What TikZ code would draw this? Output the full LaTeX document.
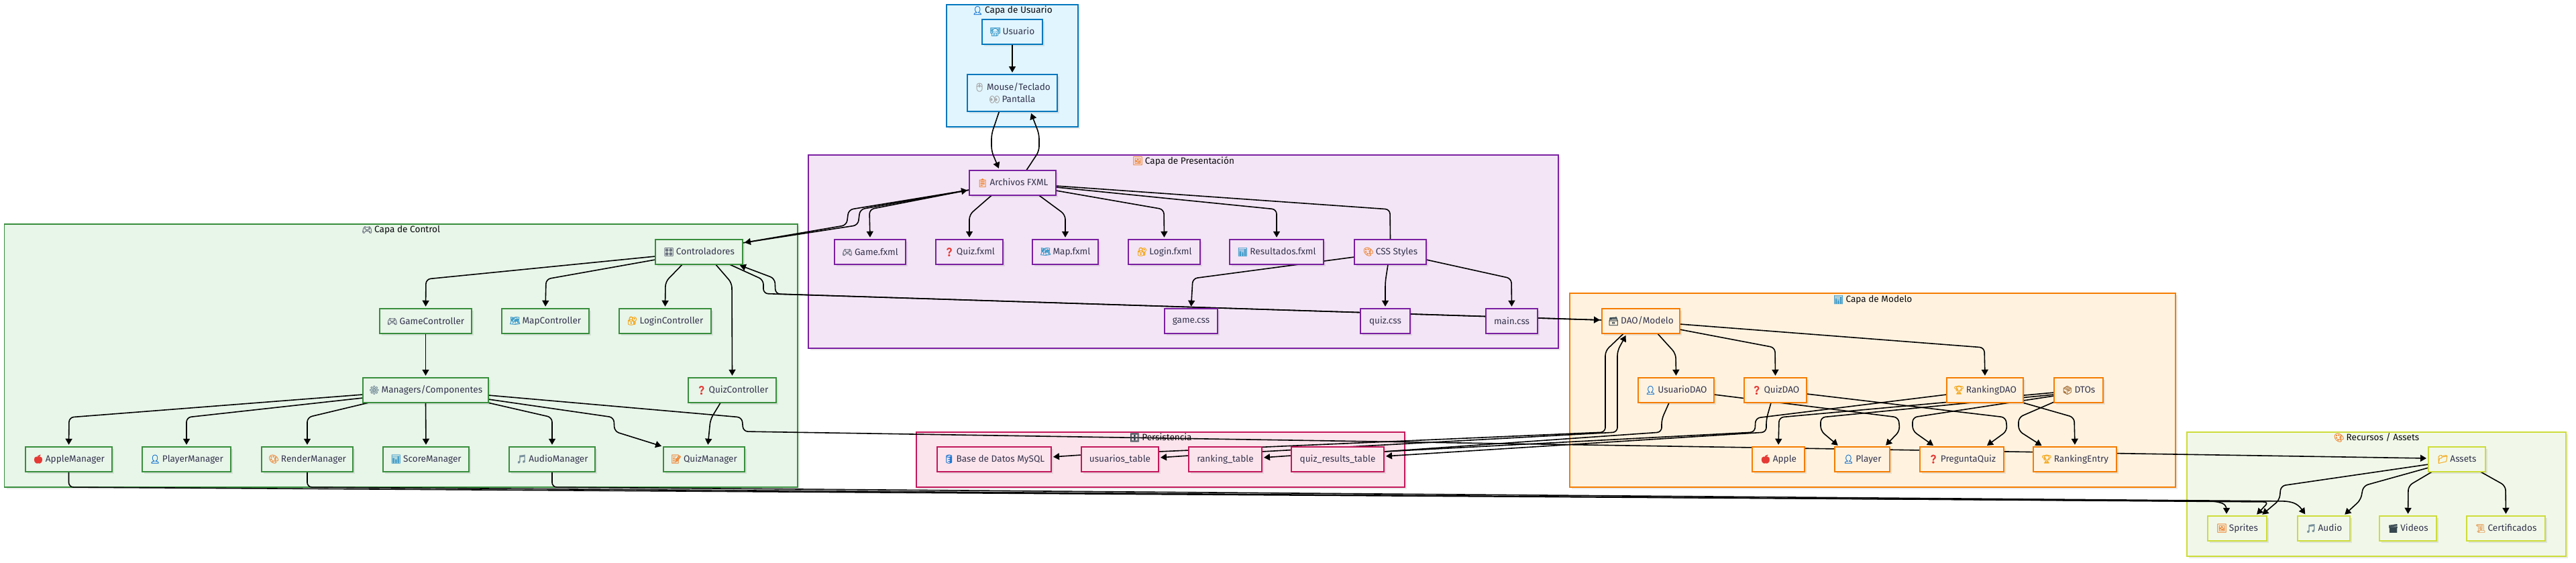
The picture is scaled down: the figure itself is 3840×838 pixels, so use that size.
\documentclass[tikz,border=0pt]{standalone}
\usepackage{fontspec}
\setmainfont{Fira Sans}
\newfontfamily\emojifont[FakeBold=2,Scale=0.92]{Noto Emoji}
\usetikzlibrary{arrows.meta,shadows}
\pgfdeclarelayer{clusterlayer}
\pgfdeclarelayer{edgelayer}
\pgfsetlayers{clusterlayer,edgelayer,main}
\definecolor{txt}{HTML}{33334D}
\definecolor{ufill}{HTML}{E1F5FE}\definecolor{ustroke}{HTML}{0277BD}
\definecolor{pfill}{HTML}{F3E5F5}\definecolor{pstroke}{HTML}{7B1FA2}
\definecolor{cfill}{HTML}{E8F5E9}\definecolor{cstroke}{HTML}{388E3C}
\definecolor{mfill}{HTML}{FFF3E0}\definecolor{mstroke}{HTML}{F57C00}
\definecolor{dfill}{HTML}{FCE4EC}\definecolor{dstroke}{HTML}{C2185B}
\definecolor{rfill}{HTML}{F1F8E9}\definecolor{rstroke}{HTML}{CDDC39}
\definecolor{eblue}{HTML}{1976D2}\definecolor{ered}{HTML}{E53935}
\definecolor{egrey}{HTML}{6B7280}\definecolor{eamber}{HTML}{F4A91F}
\definecolor{eorange}{HTML}{EF8A3C}\definecolor{ebrown}{HTML}{A9743F}
\definecolor{edark}{HTML}{37474F}\definecolor{esteel}{HTML}{78909C}
\definecolor{elight}{HTML}{A8A8A8}\definecolor{etan}{HTML}{E8B27A}
\definecolor{eteal}{HTML}{3E9BC9}
\newcommand{\emj}[2]{{\color{#1}\emojifont #2}\hspace{3pt}}
\tikzset{
  sh/.style={drop shadow={shadow xshift=3pt,shadow yshift=-3pt,fill=black,opacity=.08}},
  cluster/.style={rectangle,line width=1.8pt,inner sep=0pt,outer sep=0pt,sh},
  nd/.style={rectangle,line width=1.8pt,inner sep=0pt,outer sep=0pt,minimum height=37.5pt,
    text=txt,font=\fontsize{13.6}{18}\selectfont,align=center,sh},
  ttl/.style={text=black!85!txt,font=\fontsize{13.6}{18}\selectfont,inner sep=0pt},
  ucl/.style={cluster,draw=ustroke,fill=ufill},un/.style={nd,draw=ustroke,fill=ufill},
  pcl/.style={cluster,draw=pstroke,fill=pfill},pn/.style={nd,draw=pstroke,fill=pfill},
  ccl/.style={cluster,draw=cstroke,fill=cfill},cn/.style={nd,draw=cstroke,fill=cfill},
  mcl/.style={cluster,draw=mstroke,fill=mfill},mn/.style={nd,draw=mstroke,fill=mfill},
  dcl/.style={cluster,draw=dstroke,fill=dfill},dn/.style={nd,draw=dstroke,fill=dfill},
  rcl/.style={cluster,draw=rstroke,fill=rfill},rn/.style={nd,draw=rstroke,fill=rfill},
  edge/.style={draw=black,line width=1.6pt,rounded corners=7pt},
  arr/.style={edge,-{Triangle[length=9pt,width=10pt]},shorten >=3pt},
}
\begin{document}
\begin{tikzpicture}[x=1pt,y=-1pt]
\useasboundingbox (0,0) rectangle (3840,838);
\begin{pgfonlayer}{clusterlayer}
\node[ucl,minimum width=196pt,minimum height=182pt] (cu) at (1509,98) {};
\node[pcl,minimum width=1118pt,minimum height=288pt] (cp) at (1764,375) {};
\node[ccl,minimum width=1182.5pt,minimum height=392pt] (cc) at (597.75,530) {};
\node[mcl,minimum width=903pt,minimum height=289pt] (cm) at (2791.5,581.5) {};
\node[dcl,minimum width=728pt,minimum height=82pt] (cd) at (1730,685) {};
\node[rcl,minimum width=565pt,minimum height=185pt] (cr) at (3542.5,736.5) {};
\end{pgfonlayer}
\node[ttl] (tu) at (1509,16) {\emj{eblue}{👤}Capa de Usuario};
\node[ttl] (tp) at (1764,240) {\emj{eorange}{🖼}Capa de Presentación};
\node[ttl] (tc) at (597.75,343) {\emj{egrey}{🎮}Capa de Control};
\node[ttl] (tm) at (2791.5,447) {\emj{eteal}{📊}Capa de Modelo};
\node[ttl] (td) at (1730,652) {\emj{edark}{🗄}Persistencia};
\node[ttl] (tr) at (3542.5,652) {\emj{eorange}{🎨}Recursos / Assets};
% user
\node[un,minimum width=90pt] (usuario) at (1509,47.5) {\emj{eteal}{🧑‍💻}Usuario};
\node[un,minimum width=134pt,minimum height=55pt] (mouse) at (1509,138.5) {\emj{elight}{🖱}Mouse/Teclado\\\emj{elight}{👀}Pantalla};
% presentation
\node[pn,minimum width=129pt] (arch) at (1509.5,272.5) {\emj{eorange}{📋}Archivos FXML};
\node[pn,minimum width=106pt] (gamef) at (1297,375.5) {\emj{egrey}{🎮}Game.fxml};
\node[pn,minimum width=100pt] (quizf) at (1445,375.5) {\emj{ered}{❓}Quiz.fxml};
\node[pn,minimum width=98pt] (mapf) at (1588,375.5) {\emj{eteal}{🗺}Map.fxml};
\node[pn,minimum width=107pt] (loginf) at (1735.5,375.5) {\emj{eamber}{🔐}Login.fxml};
\node[pn,minimum width=140pt] (resf) at (1903,375.5) {\emj{eteal}{📊}Resultados.fxml};
\node[pn,minimum width=107pt] (css) at (2072.5,375.5) {\emj{eorange}{🎨}CSS Styles};
\node[pn,minimum width=79pt] (gcss) at (1775.5,478.5) {game.css};
\node[pn,minimum width=74pt] (qcss) at (2065,478.5) {quiz.css};
\node[pn,minimum width=77pt] (mcss) at (2253.5,478.5) {main.css};
% control
\node[cn,minimum width=130pt] (ctrl) at (1042,375.5) {\emj{egrey}{🎛}Controladores};
\node[cn,minimum width=137pt] (gamec) at (634.5,478.5) {\emj{egrey}{🎮}GameController};
\node[cn,minimum width=130pt] (mapc) at (813,478.5) {\emj{eteal}{🗺}MapController};
\node[cn,minimum width=137pt] (loginc) at (991.5,478.5) {\emj{eamber}{🔐}LoginController};
\node[cn,minimum width=187pt] (managers) at (634.5,581.5) {\emj{esteel}{⚙}Managers/Componentes};
\node[cn,minimum width=131pt] (quizc) at (1091.5,581.5) {\emj{ered}{❓}QuizController};
\node[cn,minimum width=129pt] (applem) at (102.5,684.5) {\emj{ered}{🍎}AppleManager};
\node[cn,minimum width=132pt] (playerm) at (278,684.5) {\emj{eblue}{👤}PlayerManager};
\node[cn,minimum width=136pt] (renderm) at (458,684.5) {\emj{eorange}{🎨}RenderManager};
\node[cn,minimum width=128pt] (scorem) at (635,684.5) {\emj{eteal}{📊}ScoreManager};
\node[cn,minimum width=128pt] (audiom) at (823,684.5) {\emj{esteel}{🎵}AudioManager};
\node[cn,minimum width=121pt] (quizm) at (1049.5,684.5) {\emj{eorange}{📝}QuizManager};
% persistence
\node[dn,minimum width=170pt] (base) at (1482,684.5) {\emj{eblue}{🛢}Base de Datos MySQL};
\node[dn,minimum width=115pt] (utab) at (1669.5,684.5) {usuarios\_table};
\node[dn,minimum width=109pt] (rtab) at (1826.5,684.5) {ranking\_table};
\node[dn,minimum width=138pt] (qtab) at (1994,684.5) {quiz\_results\_table};
% model
\node[mn,minimum width=116pt] (dao) at (2446,478.5) {\emj{edark}{🗃}DAO/Modelo};
\node[mn,minimum width=113pt] (udao) at (2498.5,581.5) {\emj{eblue}{👤}UsuarioDAO};
\node[mn,minimum width=93pt] (qdao) at (2646.5,581.5) {\emj{ered}{❓}QuizDAO};
\node[mn,minimum width=114pt] (rdao) at (2959,581.5) {\emj{eamber}{🏆}RankingDAO};
\node[mn,minimum width=73pt] (dtos) at (3098.5,581.5) {\emj{ebrown}{📦}DTOs};
\node[mn,minimum width=78pt] (apple) at (2651,684.5) {\emj{ered}{🍎}Apple};
\node[mn,minimum width=82pt] (player) at (2776,684.5) {\emj{eblue}{👤}Player};
\node[mn,minimum width=125pt] (preg) at (2924.5,684.5) {\emj{ered}{❓}PreguntaQuiz};
\node[mn,minimum width=124pt] (rent) at (3093,684.5) {\emj{eamber}{🏆}RankingEntry};
% assets
\node[rn,minimum width=85pt] (assets) at (3662.5,684.5) {\emj{eamber}{📁}Assets};
\node[rn,minimum width=88pt] (sprites) at (3335,787.5) {\emj{eorange}{🖼}Sprites};
\node[rn,minimum width=78pt] (audio) at (3464,787.5) {\emj{esteel}{🎵}Audio};
\node[rn,minimum width=85pt] (videos) at (3589.5,787.5) {\emj{edark}{🎬}Videos};
\node[rn,minimum width=117pt] (certs) at (3735.5,787.5) {\emj{etan}{📜}Certificados};
\begin{pgfonlayer}{edgelayer}
% user
\draw[arr] (usuario.south) -- (mouse.north);
\draw[arr] ([xshift=-19.5pt]mouse.south) -- (1478,200) -- (1478,225) -- ([xshift=-19.5pt]arch.north);
\draw[arr] ([xshift=20.5pt]arch.north) -- (1549,225) -- (1549,200) -- ([xshift=27pt]mouse.south);
% archivos
\draw[arr] ([yshift=-10.5pt]arch.west) -- (1296,312) -- (gamef.north);
\draw[arr] ([yshift=-10.5pt]arch.west) -- (1265,312.5) -- (1262,335.5) -- ([yshift=13.5pt]ctrl.east);
\draw[arr] ([yshift=13.5pt]ctrl.east) -- (1279,335.5) -- (1282,312) -- ([yshift=-10.5pt]arch.west);
\draw[arr] ([xshift=-31.5pt]arch.south) -- (1445,320) -- (quizf.north);
\draw[arr] ([xshift=39.5pt]arch.south) -- (1588,320) -- (mapf.north);
\draw[arr] ([yshift=-11.5pt]arch.east) -- (1735,312) -- (loginf.north);
\draw[arr] ([yshift=-6.5pt]arch.east) -- (1903,312) -- (resf.north);
\draw[edge] ([yshift=-4.5pt]arch.east) -- (2072,312) -- (css.north);
% css
\draw[arr] ([yshift=-7.5pt]css.west) -- (1778,415) -- (gcss.north);
\draw[arr] ([xshift=-3.5pt]css.south) -- (2065,420) -- (qcss.north);
\draw[arr] ([yshift=-11.5pt]css.east) -- (2253,415) -- (mcss.north);
% control
\draw[arr] ([yshift=-6.5pt]ctrl.west) -- (635,416) -- (gamec.north);
\draw[arr] ([yshift=-11.5pt]ctrl.west) -- (814,416) -- (mapc.north);
\draw[arr] ([xshift=-25pt]ctrl.south) -- (992,420) -- (loginc.north);
\draw[arr] ([xshift=25pt]ctrl.south) -- (1091,422) -- (quizc.north);
\draw[arr] (gamec.south) -- (managers.north);
\draw[arr] ([xshift=-17.5pt]quizc.south) -- (1059,625) -- ([xshift=5.5pt]quizm.north);
\draw[arr] ([yshift=-6.5pt]managers.west) -- (103,622) -- (applem.north);
\draw[arr] ([yshift=-11.5pt]managers.west) -- (278,622) -- (playerm.north);
\draw[arr] ([xshift=-85.5pt]managers.south) -- (458,622) -- (renderm.north);
\draw[arr] (managers.south) -- (scorem.north);
\draw[arr] (managers.south east) -- (823,622) -- (audiom.north);
\draw[arr] ([yshift=-13.5pt]managers.east) -- (915,622) -- (916,643) -- (quizm.north west);
\draw[arr] ([yshift=-7.5pt]managers.east) -- (1106,622) -- (1108,643) -- ([yshift=1.5pt]assets.west);
% controller to model
\draw[arr] ([xshift=46pt]ctrl.south) -- (1138,417) -- (1138,437.5) -- ([yshift=1.5pt]dao.west);
\draw[arr] ([yshift=1.5pt]dao.west) -- (1156,438) -- (1155,415) -- ([xshift=58pt]ctrl.south);
% manager to resources
\draw[arr] (applem.south) -- (102.5,726) -- (3303,747) -- (3319,752) -- ([xshift=-16pt]sprites.north);
\draw[arr] (renderm.south) -- (458,726) -- (3382,748) -- ([xshift=27pt]sprites.north);
\draw[arr] (audiom.south) -- (823,726) -- (3412,747) -- (3426,752) -- ([xshift=-26pt]audio.north);
% persistence
\draw[arr] ([yshift=5.5pt]qtab.west) -- ([yshift=2.5pt]rtab.east);
\draw[arr] ([yshift=5.5pt]rtab.west) -- ([yshift=2.5pt]utab.east);
\draw[arr] ([yshift=6.5pt]utab.west) -- ([yshift=3.5pt]base.east);
\draw[edge] ([xshift=-26pt]dao.south) -- (2393,523) -- (2393,644) -- ([yshift=11.5pt]utab.east);
\draw[arr] ([yshift=11.5pt]rtab.east) -- (2411,644) -- (2411,523) -- ([xshift=-21pt]dao.south);
\draw[edge] ([xshift=-10.5pt]udao.south) -- (2477,625) -- (2477,644) -- ([yshift=11.5pt]qtab.east);
\draw[arr] ([xshift=-6.5pt]qdao.south) -- (2633,625) -- (2633,644) -- ([yshift=4.5pt]qtab.east);
\draw[edge] ([yshift=-6.5pt]rdao.west) -- (2617,623) -- (2616,644) -- ([yshift=11.5pt]qtab.east);
% model
\draw[arr] ([xshift=25pt]dao.south) -- (2498,527) -- (udao.north);
\draw[arr] ([yshift=-12.5pt]dao.east) -- (2646,518) -- (qdao.north);
\draw[arr] ([yshift=-4.5pt]dao.east) -- (2958,518) -- (rdao.north);
\draw[arr] ([yshift=-6.5pt]udao.east) -- (2830,622) -- (2832,642) -- ([xshift=33pt]player.north);
\draw[arr] ([yshift=-5.5pt]qdao.east) -- (2990,622) -- (2992,642) -- ([xshift=35pt]preg.north);
\draw[arr] (rdao.south east) -- (3092,622) -- (rent.north);
\draw[arr] ([yshift=-3.5pt]dtos.west) -- (2652,622) -- (apple.north);
\draw[arr] ([yshift=-6.5pt]dtos.west) -- (2714,622) -- (2714,642) -- ([xshift=-34pt]player.north);
\draw[arr] ([yshift=-8.5pt]dtos.west) -- (2851,622) -- (2851,642) -- ([xshift=-40pt]preg.north);
\draw[arr] ([yshift=-17.5pt]dtos.west) -- (3009,622) -- (3009,642) -- ([xshift=-47pt]rent.north);
% assets
\draw[arr] ([yshift=-7.5pt]assets.west) -- (3400,724) -- (3398,745) -- ([xshift=35pt]sprites.north);
\draw[arr] ([yshift=-12.5pt]assets.west) -- (3523,724) -- (3519,745) -- ([xshift=29pt]audio.north);
\draw[arr] ([xshift=-37.5pt]assets.south) -- (3590,724) -- (videos.north);
\draw[arr] ([xshift=35.5pt]assets.south) -- (3735,724) -- (certs.north);
\end{pgfonlayer}
\end{tikzpicture}
\end{document}
